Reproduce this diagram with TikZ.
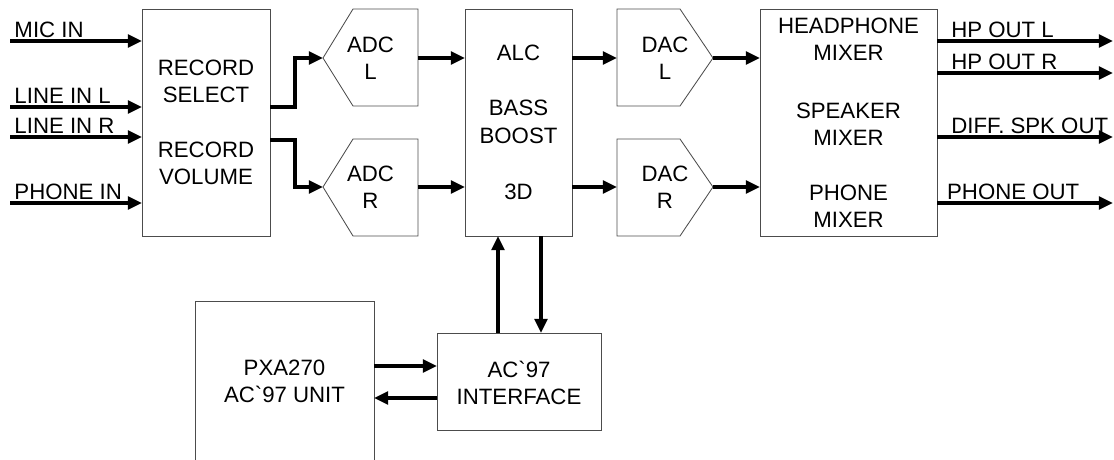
\documentclass[tikz,border=0pt]{standalone}
\usepackage{fontspec}
\setmainfont{Liberation Sans}[Ligatures=TeXOff]
\usetikzlibrary{arrows.meta}

\tikzset{
  box/.style={draw=black!70, line width=0.6pt, inner sep=0pt, outer sep=0pt},
  txt/.style={align=center, font=\fontsize{15.8}{19.5}\selectfont, inner sep=0pt},
  sig/.style={line width=2.4pt, -{Triangle[length=10pt,width=9pt]}},
  tag/.style={anchor=south west, font=\fontsize{15.8}{19}\selectfont, inner xsep=2pt, inner ysep=1pt}
}

\begin{document}
\begin{tikzpicture}[x=0.025cm,y=-0.025cm]
\clip (0,0) rectangle (1114,460);

% Main blocks
\node[box,minimum width=3.2cm,minimum height=5.675cm] (rec) at (206,122.5) {};
\node[txt] (recsel) at (206,81.5) {RECORD\\SELECT};
\node[txt] (recvol) at (206,163.5) {RECORD\\VOLUME};

\node[box,minimum width=2.675cm,minimum height=5.675cm] (alc) at (518.5,122.5) {};
\node[txt] (alctxt) at (518.5,53) {ALC};
\node[txt] (basstxt) at (518.5,122) {BASS\\BOOST};
\node[txt] (threed) at (518.5,192) {3D};

\node[box,minimum width=4.425cm,minimum height=5.675cm] (mix) at (848.5,122.5) {};
\node[txt] (hpmix) at (848.5,39) {HEADPHONE\\MIXER};
\node[txt] (spkmix) at (848.5,124) {SPEAKER\\MIXER};
\node[txt] (phmix) at (848.5,206) {PHONE\\MIXER};

% Converters
\draw[box] (323,58) coordinate (adcl) -- (353,9) -- (418,9) -- (418,106) -- (353,106) -- cycle;
\coordinate (adclo) at (418,58);
\node[txt] (adcltxt) at (370.5,58) {ADC\\L};
\draw[box] (323,187) coordinate (adcr) -- (353,139) -- (418,139) -- (418,236) -- (353,236) -- cycle;
\coordinate (adcro) at (418,187);
\node[txt] (adcrtxt) at (370.5,187) {ADC\\R};

\draw[box] (617,58) coordinate (dacl) -- (617,9) -- (680,9) -- (713,58) coordinate (daclo) -- (680,106) -- (617,106) -- cycle;
\node[txt] (dacltxt) at (665,58) {DAC\\L};
\draw[box] (617,187) coordinate (dacr) -- (617,139) -- (680,139) -- (713,187) coordinate (dacro) -- (680,236) -- (617,236) -- cycle;
\node[txt] (dacrtxt) at (665,187) {DAC\\R};

% Bottom blocks
\node[box,minimum width=4.475cm,minimum height=4.725cm] (pxa) at (284.5,395.5) {};
\node[txt] (pxatxt) at (284.5,381.5) {PXA270\\AC`97 UNIT};
\node[box,minimum width=4.1cm,minimum height=2.425cm] (iface) at (519,381.5) {};
\node[txt] (ifacetxt) at (519,383) {AC`97\\INTERFACE};

% Inputs
\coordinate (micin) at (10,41);
\coordinate (lineinl) at (10,107);
\coordinate (lineinr) at (10,137);
\coordinate (phonein) at (10,203);
\draw[sig] (micin) node[tag] {MIC IN} -- (rec.west |- micin);
\draw[sig] (lineinl) node[tag] {LINE IN L} -- (rec.west |- lineinl);
\draw[sig] (lineinr) node[tag] {LINE IN R} -- (rec.west |- lineinr);
\draw[sig] (phonein) node[tag] {PHONE IN} -- (rec.west |- phonein);

% Record to ADC
\draw[sig] (rec.east |- 0,107) -- (295,107) |- (adcl);
\draw[sig] (rec.east |- 0,140) -- (295,140) |- (adcr);

% ADC to ALC, ALC to DAC, DAC to mixer
\draw[sig] (adclo) -- (alc.west |- adclo);
\draw[sig] (adcro) -- (alc.west |- adcro);
\draw[sig] (alc.east |- dacl) -- (dacl);
\draw[sig] (alc.east |- dacr) -- (dacr);
\draw[sig] (daclo) -- (mix.west |- daclo);
\draw[sig] (dacro) -- (mix.west |- dacro);

% Outputs
\coordinate (hpoutl) at (1113,41);
\coordinate (hpoutr) at (1113,73);
\coordinate (spkout) at (1113,137);
\coordinate (phoneout) at (1113,203);
\draw[sig] (mix.east |- hpoutl) node[tag,xshift=7pt] {HP OUT L} -- (hpoutl);
\draw[sig] (mix.east |- hpoutr) node[tag,xshift=7pt] {HP OUT R} -- (hpoutr);
\draw[sig] (mix.east |- spkout) node[tag,xshift=7pt] {DIFF. SPK OUT} -- (spkout);
\draw[sig] (mix.east |- phoneout) node[tag,xshift=4pt] {PHONE OUT} -- (phoneout);

% Control path
\draw[sig] (iface.north -| 498,0) -- (alc.south -| 498,0);
\draw[sig] (alc.south -| 541,0) -- (iface.north -| 541,0);
\draw[sig] (pxa.east |- 0,366) -- (iface.west |- 0,366);
\draw[sig] (iface.west |- 0,398) -- (pxa.east |- 0,398);
\end{tikzpicture}
\end{document}
